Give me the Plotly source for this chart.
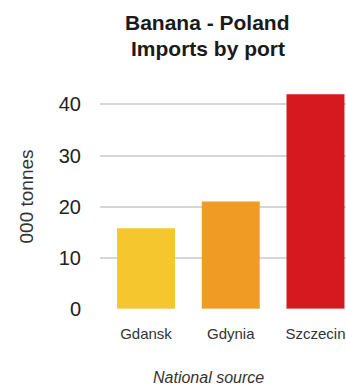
import plotly.graph_objects as go

ports = ["Gdansk", "Gdynia", "Szczecin"]
imports_kt = [15.8, 21.0, 42.0]
bar_colors = ["#F6C62E", "#EF9B24", "#D5191E"]
y_ticks = [0, 10, 20, 30, 40]
grid_ticks = [10, 20, 30, 40]

W, H = 346, 387
L, R, T, B = 100, 0, 84, 78
PW, PH = W - L - R, H - T - B
font = "Liberation Sans, Arial, sans-serif"


def px_x(px):
    return (px - L) / PW


def px_y(py):
    return (H - B - py) / PH


fig = go.Figure()
fig.add_trace(go.Bar(x=ports, y=imports_kt, marker=dict(color=bar_colors, line=dict(width=0)),
                     showlegend=False, hoverinfo="skip"))
fig.add_trace(go.Bar(x=ports, y=[0, 0, 0], yaxis="y2", showlegend=False, hoverinfo="skip",
                     marker=dict(color="rgba(0,0,0,0)")))

fig.update_layout(
    width=W, height=H,
    margin=dict(l=L, r=R, t=T, b=B),
    paper_bgcolor="white", plot_bgcolor="white",
    bargap=0.316, barmode="overlay",
    xaxis=dict(range=[-0.543, 2.36], showgrid=False, zeroline=False, showline=False,
               ticks="", tickfont=dict(family=font, size=15, color="#333"),
               ticklabelstandoff=14),
    yaxis=dict(range=[0, 44], tickvals=y_ticks, showgrid=False, zeroline=False, showline=False,
               ticks="", tickfont=dict(family=font, size=20, color="#222"),
               ticklabelstandoff=18,
               title=dict(text="000 tonnes", font=dict(family=font, size=19, color="#333"),
                          standoff=20)),
    yaxis2=dict(range=[0, 44], overlaying="y", tickvals=grid_ticks, showticklabels=False,
                showgrid=True, gridcolor="#d6d6d6", gridwidth=1.5, zeroline=False, ticks=""),
    annotations=[
        dict(text="<b>Banana - Poland</b>", x=px_x(207.5), xref="paper", y=px_y(22), yref="paper",
             xanchor="center", yanchor="middle", showarrow=False,
             font=dict(family=font, size=21, color="#1a1a1a")),
        dict(text="<b>Imports by port</b>", x=px_x(208), xref="paper", y=px_y(48), yref="paper",
             xanchor="center", yanchor="middle", showarrow=False,
             font=dict(family=font, size=21, color="#1a1a1a")),
        dict(text="<i>National source</i>", x=px_x(208), xref="paper", y=px_y(377), yref="paper",
             xanchor="center", yanchor="middle", showarrow=False,
             font=dict(family=font, size=16, color="#333")),
    ],
)

fig.write_html("out.html")
